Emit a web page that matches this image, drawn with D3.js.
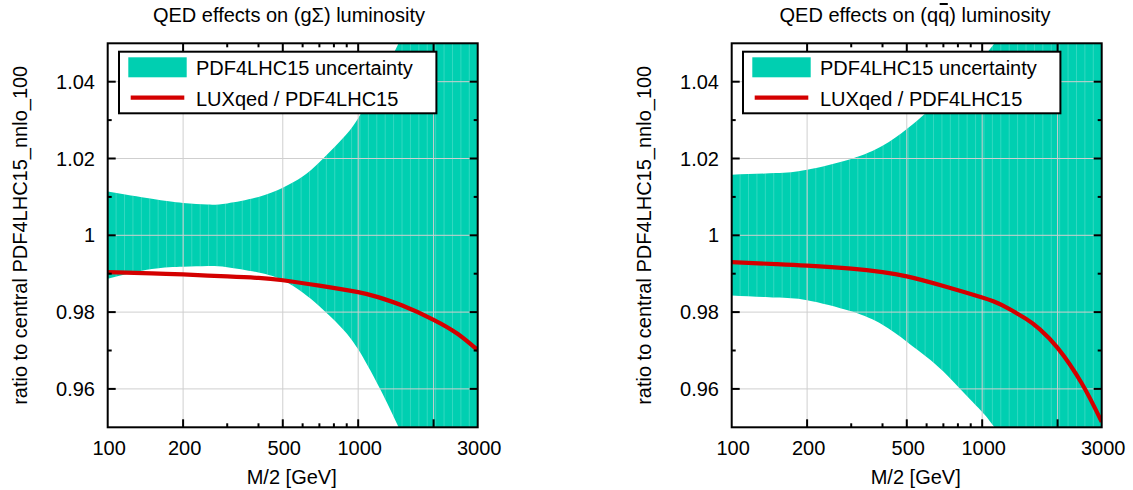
<!DOCTYPE html>
<html>
<head>
<meta charset="utf-8">
<script src="https://cdn.jsdelivr.net/npm/d3@7"></script>
<style>
  html, body { margin: 0; padding: 0; background: #fff; }
  svg { display: block; }
  text { font-family: "Liberation Sans", Arial, Helvetica, sans-serif; fill: #000; }
</style>
</head>
<body>
<svg id="chart" width="1133" height="490"></svg>
<script>
// ---------------- data ----------------
// left panel: (g Sigma) luminosity
const gsMass  = [100, 150, 200, 250, 300, 400, 500, 600, 700, 850, 1000, 1200, 1450, 2000, 3000];
const gsUpper = [1.0114, 1.0095, 1.0084, 1.0080, 1.0083, 1.0100, 1.0124, 1.0153, 1.0190, 1.0246, 1.0305, 1.0398, 1.0500, 1.0700, 1.0950];
const gsLower = [0.9887, 0.9912, 0.9918, 0.9920, 0.9917, 0.9903, 0.9883, 0.9851, 0.9815, 0.9762, 0.9703, 0.9610, 0.9500, 0.9300, 0.9050];
const gsLuxMass = [100, 150, 200, 300, 400, 500, 700, 1000, 1200, 1500, 2000, 2500, 3000];
const gsLux     = [0.9904, 0.9901, 0.9898, 0.9893, 0.9889, 0.9883, 0.9869, 0.9852, 0.9839, 0.9817, 0.9780, 0.9743, 0.9701];

// right panel: (q qbar) luminosity
const qqMass  = [100, 150, 200, 300, 400, 500, 600, 700, 850, 1000, 1120, 1500, 2000, 3000];
const qqUpper = [1.0158, 1.0162, 1.0171, 1.0199, 1.0233, 1.0277, 1.0320, 1.0360, 1.0415, 1.0463, 1.0500, 1.0620, 1.0780, 1.1000];
const qqLower = [0.9843, 0.9838, 0.9831, 0.9802, 0.9767, 0.9723, 0.9683, 0.9645, 0.9588, 0.9540, 0.9500, 0.9380, 0.9220, 0.9000];
const qqLuxMass = [100, 150, 200, 300, 400, 500, 700, 1000, 1200, 1500, 1700, 2000, 2500, 3000];
const qqLux     = [0.9930, 0.9925, 0.9921, 0.9913, 0.9904, 0.9893, 0.9868, 0.9838, 0.9818, 0.9782, 0.9755, 0.9707, 0.9614, 0.9514];

// axes / ticks
const xDomain = [100, 3000];
const yDomain = [0.95, 1.05];
const xTickLabels = [100, 200, 500, 1000, 3000];
const xMajorTicks = [200, 500, 1000, 2000];
const xMinorTicks = [300, 400, 600, 700, 800, 900];
const yMajorTicks = [0.96, 0.98, 1.00, 1.02, 1.04];
const yMinorTicks = [0.97, 0.99, 1.01, 1.03];
const legendLabels = ["PDF4LHC15 uncertainty", "LUXqed / PDF4LHC15"];
const yAxisTitle = "ratio to central PDF4LHC15_nnlo_100";
const xAxisTitle = "M/2 [GeV]";

const panels = [
  { id: "gs", pre: "QED effects on (gΣ) luminosity", bar: -1,
    mass: gsMass, upper: gsUpper, lower: gsLower, luxMass: gsLuxMass, lux: gsLux },
  { id: "qq", pre: "QED effects on (qq) luminosity", bar: 17,
    mass: qqMass, upper: qqUpper, lower: qqLower, luxMass: qqLuxMass, lux: qqLux }
];

// ---------------- style / layout ----------------
const BAND = "#00cfb1";
const RED = "#d40000";
const GRID = "#cfcfcf";
const FONT = 20;
const plotW = 370, plotH = 384, plotTop = 43.3;
const panelX = [107.7, 731.7];
const titleX = [289, 915];
const smooth = d3.curveNatural;

const svg = d3.select("#chart");
const defs = svg.append("defs");

panels.forEach((p, i) => {
  const x0 = panelX[i];
  const x = d3.scaleLog().domain(xDomain).range([x0, x0 + plotW]);
  const y = d3.scaleLinear().domain(yDomain).range([plotTop + plotH, plotTop]);
  const g = svg.append("g");

  defs.append("clipPath").attr("id", "clip-" + p.id)
    .append("rect").attr("x", x0).attr("y", plotTop).attr("width", plotW).attr("height", plotH);

  const bandArea = d3.area()
    .x((d, k) => x(p.mass[k]))
    .y0((d, k) => y(p.lower[k]))
    .y1((d, k) => y(p.upper[k]))
    .curve(smooth);

  const plot = g.append("g").attr("clip-path", "url(#clip-" + p.id + ")");
  plot.append("path").datum(p.mass).attr("d", bandArea).attr("fill", BAND);

  // faint vertical stripes inside the band (rendering artefact of the original)
  defs.append("clipPath").attr("id", "bandclip-" + p.id)
    .append("path").datum(p.mass).attr("d", bandArea);
  const stripes = plot.append("g").attr("clip-path", "url(#bandclip-" + p.id + ")");
  const nStripe = 44;
  d3.range(1, nStripe).forEach(k => {
    const sx = x0 + plotW * k / nStripe;
    stripes.append("line").attr("x1", sx).attr("x2", sx)
      .attr("y1", plotTop).attr("y2", plotTop + plotH)
      .attr("stroke", "#fff").attr("stroke-opacity", 0.25).attr("stroke-width", 0.8);
  });

  // grid
  xMajorTicks.forEach(t => {
    plot.append("line").attr("x1", x(t)).attr("x2", x(t))
      .attr("y1", plotTop).attr("y2", plotTop + plotH)
      .attr("stroke", GRID).attr("stroke-width", 1);
  });
  yMajorTicks.forEach(t => {
    plot.append("line").attr("x1", x0).attr("x2", x0 + plotW)
      .attr("y1", y(t)).attr("y2", y(t))
      .attr("stroke", GRID).attr("stroke-width", 1);
  });

  // LUXqed ratio line
  const line = d3.line()
    .x((d, k) => x(p.luxMass[k]))
    .y((d, k) => y(p.lux[k]))
    .curve(smooth);
  plot.append("path").datum(p.lux).attr("d", line)
    .attr("fill", "none").attr("stroke", RED).attr("stroke-width", 4.2);

  // frame
  g.append("rect").attr("x", x0).attr("y", plotTop).attr("width", plotW).attr("height", plotH)
    .attr("fill", "none").attr("stroke", "#000").attr("stroke-width", 2);

  // ticks
  const tk = g.append("g").attr("stroke", "#000").attr("stroke-width", 2);
  const xt = (t, len) => {
    tk.append("line").attr("x1", x(t)).attr("x2", x(t)).attr("y1", plotTop + plotH).attr("y2", plotTop + plotH - len);
    tk.append("line").attr("x1", x(t)).attr("x2", x(t)).attr("y1", plotTop).attr("y2", plotTop + len);
  };
  const yt = (t, len) => {
    tk.append("line").attr("x1", x0).attr("x2", x0 + len).attr("y1", y(t)).attr("y2", y(t));
    tk.append("line").attr("x1", x0 + plotW).attr("x2", x0 + plotW - len).attr("y1", y(t)).attr("y2", y(t));
  };
  xMajorTicks.forEach(t => xt(t, 8));
  xMinorTicks.forEach(t => xt(t, 4));
  yMajorTicks.forEach(t => yt(t, 8));
  yMinorTicks.forEach(t => yt(t, 4));

  // tick labels
  xTickLabels.forEach(t => {
    g.append("text").attr("x", x(t) + 1.5).attr("y", 455)
      .attr("text-anchor", "middle").attr("font-size", FONT).text(t);
  });
  yMajorTicks.forEach(t => {
    g.append("text").attr("x", x0 - 12.7).attr("y", y(t)).attr("dy", "0.35em")
      .attr("text-anchor", "end").attr("font-size", FONT)
      .text(t === 1 ? "1" : d3.format(".2f")(t));
  });

  // axis titles
  g.append("text").attr("x", x0 + plotW / 2 - 1).attr("y", 484)
    .attr("text-anchor", "middle").attr("font-size", FONT).text(xAxisTitle);
  g.append("text")
    .attr("transform", `translate(${x0 - 81},${plotTop + plotH / 2}) rotate(-90)`)
    .attr("text-anchor", "middle").attr("font-size", FONT).text(yAxisTitle);

  // title
  const title = g.append("text").attr("x", titleX[i]).attr("y", 21.7)
    .attr("text-anchor", "middle").attr("font-size", FONT).text(p.pre);
  if (p.bar >= 0) {
    const ext = title.node().getExtentOfChar(p.bar);
    g.append("line")
      .attr("x1", ext.x + 1.5).attr("x2", ext.x + ext.width - 1.5)
      .attr("y1", 4).attr("y2", 4)
      .attr("stroke", "#000").attr("stroke-width", 2);
  }

  // legend
  const lx = x0 + 11.3, ly = 51.7;
  const lg = g.append("g");
  lg.append("rect").attr("x", lx).attr("y", ly).attr("width", 317.4).attr("height", 61.6)
    .attr("fill", "#fff").attr("stroke", "#000").attr("stroke-width", 2);
  lg.append("rect").attr("x", x0 + 20.6).attr("y", 57.3).attr("width", 58.4).attr("height", 20)
    .attr("fill", BAND);
  lg.append("line").attr("x1", x0 + 23).attr("x2", x0 + 76.6).attr("y1", 97.7).attr("y2", 97.7)
    .attr("stroke", RED).attr("stroke-width", 4.2);
  lg.append("text").attr("x", x0 + 88.3).attr("y", 75).attr("font-size", FONT).text(legendLabels[0]);
  lg.append("text").attr("x", x0 + 88.3).attr("y", 106).attr("font-size", FONT).text(legendLabels[1]);
});
</script>
</body>
</html>
